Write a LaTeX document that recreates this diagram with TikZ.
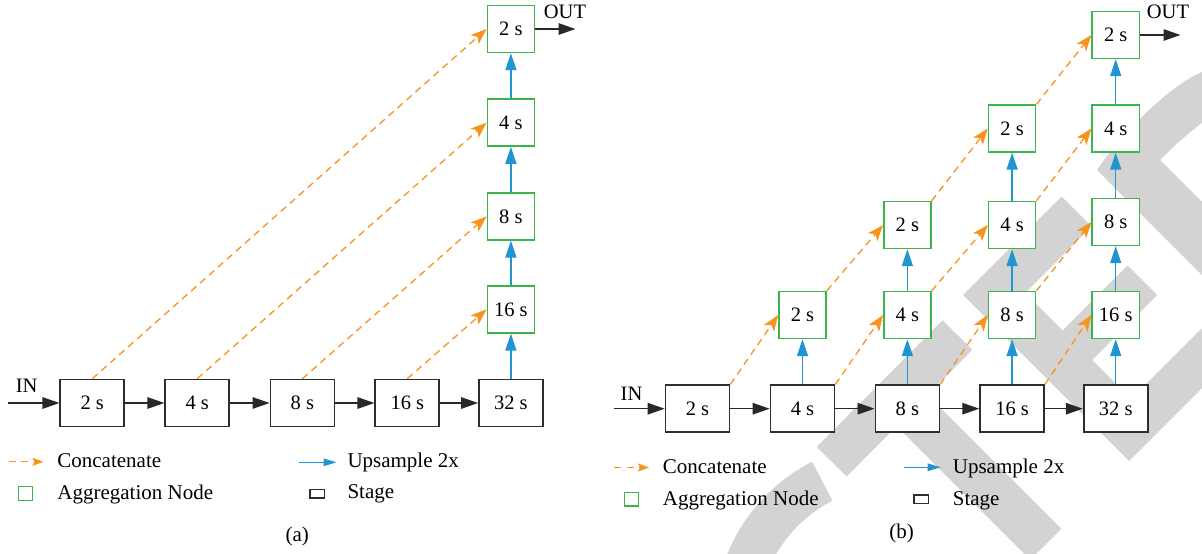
\documentclass[tikz,border=0pt]{standalone}
\usepackage{fontspec}
\setmainfont{Liberation Serif}
\usetikzlibrary{arrows.meta}

\definecolor{stagecol}{RGB}{45,45,45}
\definecolor{aggcol}{RGB}{57,181,74}
\definecolor{catcol}{RGB}{247,148,29}
\definecolor{upcol}{RGB}{33,148,210}
\definecolor{arrowcol}{RGB}{40,40,40}
\definecolor{wmcol}{RGB}{211,211,211}

\newcommand\boxfont{\fontsize{20.5}{24}\selectfont}
\newcommand\legfont{\fontsize{21}{25}\selectfont}
\newcommand\iofont{\fontsize{20.5}{24}\selectfont}

\begin{document}
\begin{tikzpicture}[x=1pt, y=-1pt,
  stagebox/.style={draw=stagecol, line width=1.7pt, fill=white,
    minimum width=64pt, minimum height=47pt, inner sep=0pt, font=\boxfont},
  aggbox/.style={draw=aggcol, line width=1.4pt, fill=white,
    minimum width=47.2pt, minimum height=47pt, inner sep=0pt, font=\boxfont},
  flow/.style={draw=arrowcol, line width=1.4pt,
    -{Triangle[length=17pt,width=11.5pt]}},
  concat/.style={draw=catcol, line width=1.3pt, dash pattern=on 7pt off 5pt,
    -{Stealth[length=16pt,width=12pt,inset=4pt]}},
  upsample/.style={draw=upcol, line width=1.5pt,
    -{Triangle[length=17pt,width=11pt]}},
  concatleg/.style={draw=catcol, line width=1.3pt, dash pattern=on 7pt off 5.5pt,
    -{Stealth[length=11pt,width=8pt,inset=2pt]}},
  upleg/.style={draw=upcol, line width=1.4pt,
    -{Triangle[length=13pt,width=7.5pt]}},
  aggkey/.style={draw=aggcol, line width=1.4pt, minimum width=14pt,
    minimum height=13.5pt, inner sep=0pt},
  stagekey/.style={draw=stagecol, line width=1.5pt, minimum width=14.5pt,
    minimum height=8.5pt, inner sep=0pt},
  lbl/.style={font=\legfont, inner sep=0pt, anchor=base west},
  iolbl/.style={font=\iofont, inner sep=0pt, anchor=base},
  caplbl/.style={font=\legfont, inner sep=0pt, anchor=base},
  wmark/.style={color=wmcol}
]
\useasboundingbox (0,0) rectangle (1202,554);

% ---------- light grey logo behind panel (b) ----------
\begin{scope}
  \clip (0,0) rectangle (1202,554);
  \draw[wmark, line width=44pt] plot[domain=195:243, samples=40, smooth]
    ({894+158*cos(\x)}, {622+158*sin(\x)});
  \draw[wmark, line width=42pt] (831.7,461.7) -- (957.5,335);
  \draw[wmark, line width=44pt] (886,384.6) -- (1045.7,544.3);
  \fill[wmark] (1061.5,196.5) -- (1091.5,226.5) -- (1025,293) -- (1131,399)
    -- (1260,270) -- (1260,330) -- (1129,461) -- (963,295) -- cycle;
  \fill[wmark] (1127.5,265.5) -- (1157,295) -- (1088.5,363.5) -- (1059,334) -- cycle;
  \fill[wmark] (1202,72) .. controls (1170,85) and (1120,135) .. (1097,170)
    -- (1330,403.3) -- (1330,330) -- (1160,160)
    .. controls (1174,146) and (1188,133) .. (1202,123)
    -- (1330,100) -- (1330,40) -- cycle;
\end{scope}

% ================= panel (a) =================
\node[stagebox] (a1) at (92.3,403) {2 s};
\node[stagebox] (a2) at (197.2,403) {4 s};
\node[stagebox] (a3) at (302.4,403) {8 s};
\node[stagebox] (a4) at (407.3,403) {16 s};
\node[stagebox] (a5) at (510.9,403) {32 s};

\node[aggbox] (ga16) at (510.9,309.4) {16 s};
\node[aggbox] (ga8)  at (510.9,216.4) {8 s};
\node[aggbox] (ga4)  at (510.9,122.6) {4 s};
\node[aggbox] (ga2)  at (510.9,29)    {2 s};

\coordinate (ina) at (8,403);
\coordinate (outa) at (575.5,29);
\node[iolbl] (inlbla) at (26.7,392.7) {IN};
\node[iolbl] (outlbla) at (565,18) {OUT};

\draw[flow] (ina) -- (a1);
\draw[flow] (a1) -- (a2);
\draw[flow] (a2) -- (a3);
\draw[flow] (a3) -- (a4);
\draw[flow] (a4) -- (a5);
\draw[flow] (ga2) -- (outa);

\draw[upsample] (a5.north) -- (ga16.south);
\draw[upsample] (ga16.north) -- (ga8.south);
\draw[upsample] (ga8.north) -- (ga4.south);
\draw[upsample] (ga4.north) -- (ga2.south);

\draw[concat] (a1.north) -- (ga2.west);
\draw[concat] (a2.north) -- (ga4.west);
\draw[concat] (a3.north) -- (ga8.west);
\draw[concat] (a4.north) -- (ga16.west);

% legend (a)
\coordinate (lca0) at (8.5,461.8);
\coordinate (lca1) at (43.5,461.8);
\draw[concatleg] (lca0) -- (lca1);
\node[lbl] (lcat) at (57.2,467.6) {Concatenate};
\coordinate (lua0) at (299.3,462.3);
\coordinate (lua1) at (336.5,462.3);
\draw[upleg] (lua0) -- (lua1);
\node[lbl] (luat) at (347.3,467.7) {Upsample 2x};
\node[aggkey] (lga) at (25.7,493.5) {};
\node[lbl] (lgat) at (57.2,499.3) {Aggregation Node};
\node[stagekey] (lsa) at (317,493.7) {};
\node[lbl] (lsat) at (347.3,498.8) {Stage};
\node[caplbl] (capa) at (297.3,541) {(a)};

% ================= panel (b) =================
\node[stagebox] (b1) at (697.5,408.7) {2 s};
\node[stagebox] (b2) at (802.5,408.7) {4 s};
\node[stagebox] (b3) at (907.4,408.7) {8 s};
\node[stagebox] (b4) at (1012.1,408.7) {16 s};
\node[stagebox] (b5) at (1115.7,408.7) {32 s};

\node[aggbox] (g12)  at (802.5,315) {2 s};

\node[aggbox] (g24)  at (907.4,315) {4 s};
\node[aggbox] (g22)  at (907.4,225) {2 s};

\node[aggbox] (g38)  at (1012.1,315)   {8 s};
\node[aggbox] (g34)  at (1012.1,225)   {4 s};
\node[aggbox] (g32)  at (1012.1,128.5) {2 s};

\node[aggbox] (g416) at (1115.7,315)   {16 s};
\node[aggbox] (g48)  at (1115.7,222)   {8 s};
\node[aggbox] (g44)  at (1115.7,128.5) {4 s};
\node[aggbox] (g42)  at (1115.7,35)    {2 s};

\coordinate (inb) at (614,408.7);
\coordinate (outb) at (1180.5,35);
\node[iolbl] (inlblb) at (631.5,400) {IN};
\node[iolbl] (outlblb) at (1168,18.3) {OUT};

\draw[flow] (inb) -- (b1);
\draw[flow] (b1) -- (b2);
\draw[flow] (b2) -- (b3);
\draw[flow] (b3) -- (b4);
\draw[flow] (b4) -- (b5);
\draw[flow] (g42) -- (outb);

\draw[upsample] (b2.north) -- (g12.south);
\draw[upsample] (b3.north) -- (g24.south);
\draw[upsample] (g24.north) -- (g22.south);
\draw[upsample] (b4.north) -- (g38.south);
\draw[upsample] (g38.north) -- (g34.south);
\draw[upsample] (g34.north) -- (g32.south);
\draw[upsample] (b5.north) -- (g416.south);
\draw[upsample] (g416.north) -- (g48.south);
\draw[upsample] (g48.north) -- (g44.south);
\draw[upsample] (g44.north) -- (g42.south);

\draw[concat] (b1.north east) -- (g12.west);
\draw[concat] (g12.north east) -- (g22.west);
\draw[concat] (g22.north east) -- (g32.west);
\draw[concat] (g32.north east) -- (g42.west);
\draw[concat] (b2.north east) -- (g24.west);
\draw[concat] (g24.north east) -- (g34.west);
\draw[concat] (g34.north east) -- (g44.west);
\draw[concat] (b3.north east) -- (g38.west);
\draw[concat] (g38.north east) -- (g48.west);
\draw[concat] (b4.north east) -- (g416.west);

% legend (b)
\coordinate (lcb0) at (614,467.5);
\coordinate (lcb1) at (649,467.5);
\draw[concatleg] (lcb0) -- (lcb1);
\node[lbl] (lcbt) at (662.7,473.3) {Concatenate};
\coordinate (lub0) at (904,467.3);
\coordinate (lub1) at (940.7,467.3);
\draw[upleg] (lub0) -- (lub1);
\node[lbl] (lubt) at (952.7,473.1) {Upsample 2x};
\node[aggkey] (lgb) at (631.2,499.2) {};
\node[lbl] (lgbt) at (662.7,505) {Aggregation Node};
\node[stagekey] (lsb) at (921.3,499.3) {};
\node[lbl] (lsbt) at (952.7,505) {Stage};
\node[caplbl] (capb) at (901.7,538.5) {(b)};
\end{tikzpicture}
\end{document}
